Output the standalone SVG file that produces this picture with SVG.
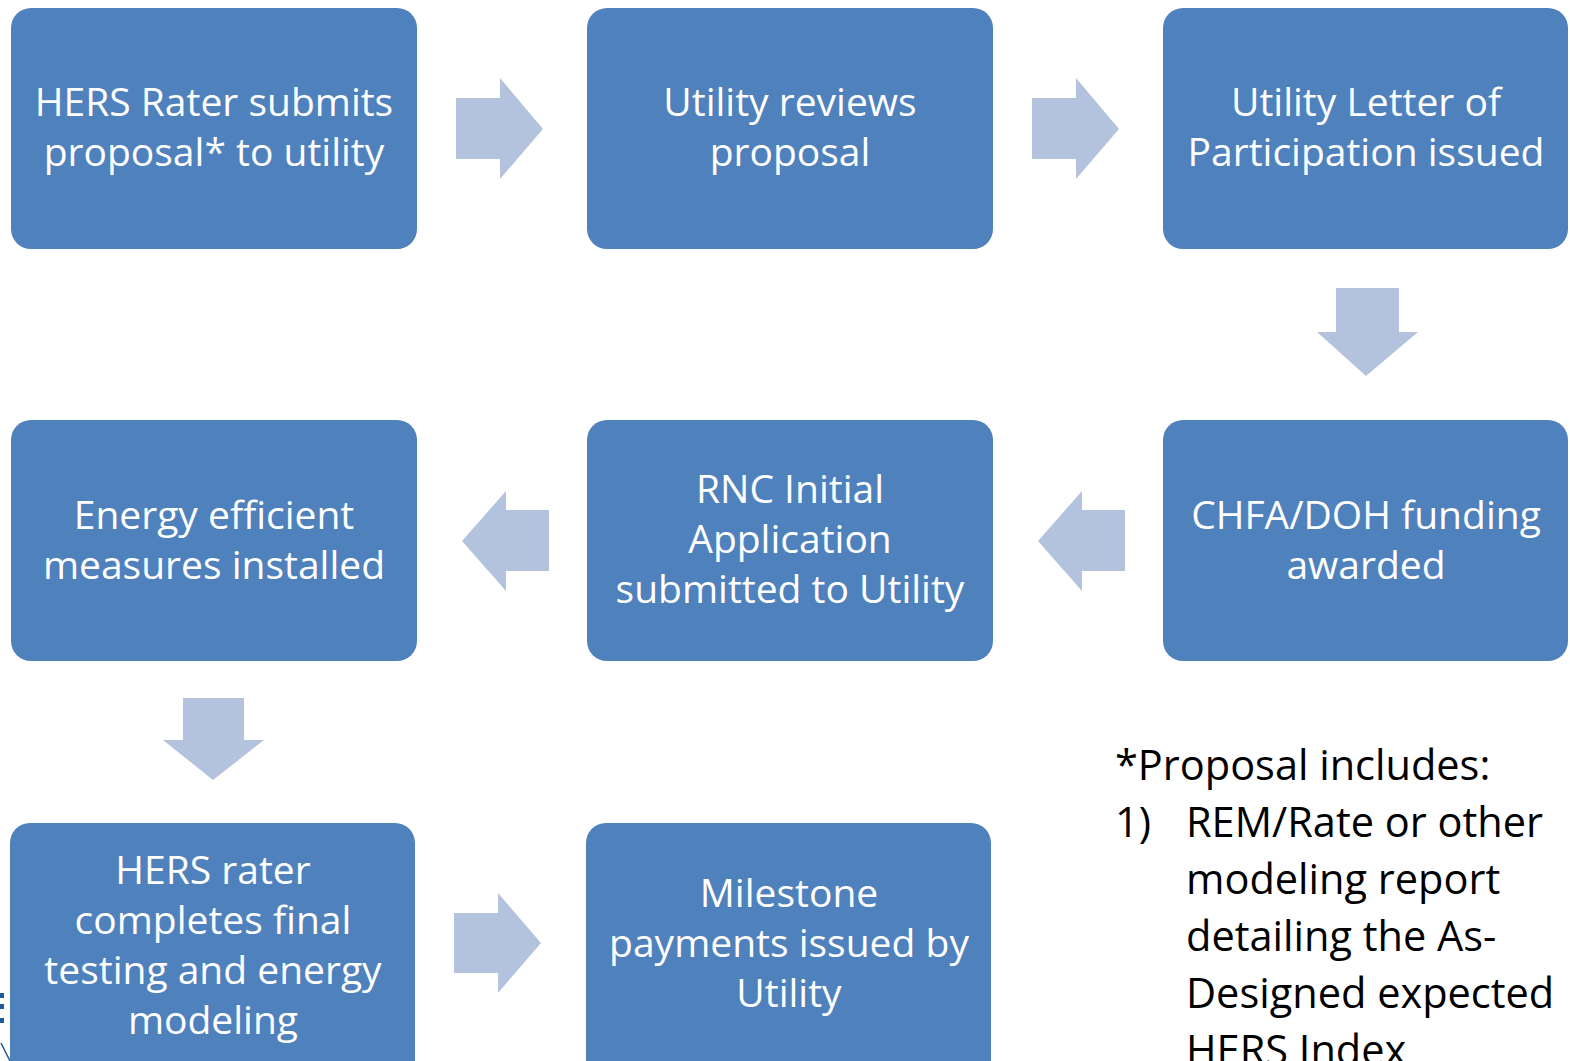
<svg xmlns="http://www.w3.org/2000/svg" width="1570" height="1061" viewBox="0 0 1570 1061">
<style>
.box{fill:#4F81BD;}
.bt{font-family:"Open Sans","Liberation Sans",sans-serif;font-size:39px;fill:#FFFFFF;text-anchor:middle;}
.arr{fill:#B3C2DD;}
.note{font-family:"Open Sans","Liberation Sans",sans-serif;font-size:41.5px;fill:#000000;}
</style>
<rect width="1570" height="1061" fill="#FFFFFF"/>
<g id="logo-fragment" fill="#1F5B9A">
<rect x="0" y="993" width="4" height="5"/>
<rect x="0" y="1004" width="4" height="5"/>
<rect x="0" y="1018" width="4" height="5"/>
<path d="M1,1043 L10,1061" stroke="#1F5B9A" stroke-width="1.5" fill="none"/>
</g>
<g id="connectors">
<polygon class="arr" points="456,98 500,98 500,78 543,129 500,179 500,159 456,159"/>
<polygon class="arr" points="1032,98 1076,98 1076,78 1119,129 1076,179 1076,159 1032,159"/>
<polygon class="arr" points="1336,288 1399,288 1399,332 1418,332 1366,376 1317,332 1336,332"/>
<polygon class="arr" points="1125,510 1082,510 1082,491 1038,541 1082,591 1082,571 1125,571"/>
<polygon class="arr" points="549,510 506,510 506,491 462,541 506,591 506,571 549,571"/>
<polygon class="arr" points="183,698 244,698 244,740 264,740 213,780 163,740 183,740"/>
<polygon class="arr" points="454,913 498,913 498,893 541,943 498,993 498,973 454,973"/>
</g>
<g id="node1">
<rect class="box" x="11" y="8" width="406" height="241" rx="20"/>
<text class="bt" x="214" y="116">HERS Rater submits</text>
<text class="bt" x="214" y="166">proposal* to utility</text>
</g>
<g id="node2">
<rect class="box" x="587" y="8" width="406" height="241" rx="20"/>
<text class="bt" x="790" y="116">Utility reviews</text>
<text class="bt" x="790" y="166">proposal</text>
</g>
<g id="node3">
<rect class="box" x="1163" y="8" width="405" height="241" rx="20"/>
<text class="bt" x="1366" y="116">Utility Letter of</text>
<text class="bt" x="1366" y="166">Participation issued</text>
</g>
<g id="node4">
<rect class="box" x="1163" y="420" width="405" height="241" rx="20"/>
<text class="bt" x="1366" y="529">CHFA/DOH funding</text>
<text class="bt" x="1366" y="579">awarded</text>
</g>
<g id="node5">
<rect class="box" x="587" y="420" width="406" height="241" rx="20"/>
<text class="bt" x="790" y="503">RNC Initial</text>
<text class="bt" x="790" y="553">Application</text>
<text class="bt" x="790" y="603">submitted to Utility</text>
</g>
<g id="node6">
<rect class="box" x="11" y="420" width="406" height="241" rx="20"/>
<text class="bt" x="214" y="529">Energy efficient</text>
<text class="bt" x="214" y="579">measures installed</text>
</g>
<g id="node7">
<rect class="box" x="10" y="823" width="405" height="260" rx="20"/>
<text class="bt" x="213" y="884">HERS rater</text>
<text class="bt" x="213" y="934">completes final</text>
<text class="bt" x="213" y="984">testing and energy</text>
<text class="bt" x="213" y="1034">modeling</text>
</g>
<g id="node8">
<rect class="box" x="586" y="823" width="405" height="260" rx="20"/>
<text class="bt" x="789" y="907">Milestone</text>
<text class="bt" x="789" y="957">payments issued by</text>
<text class="bt" x="789" y="1007">Utility</text>
</g>
<g id="note">
<text class="note" x="1115" y="780">*Proposal includes:</text>
<text class="note" x="1115" y="837">1)</text>
<text class="note" x="1186" y="837">REM/Rate or other</text>
<text class="note" x="1186" y="894">modeling report</text>
<text class="note" x="1186" y="951">detailing the As-</text>
<text class="note" x="1186" y="1008">Designed expected</text>
<text class="note" x="1186" y="1065">HERS Index</text>
</g>
</svg>
